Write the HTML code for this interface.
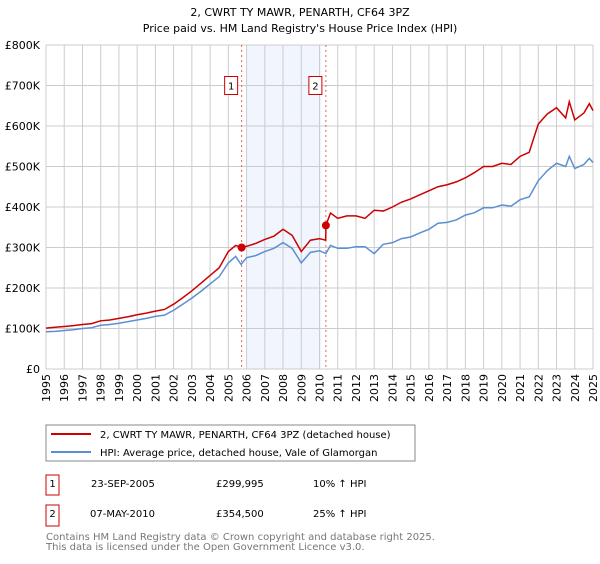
<!DOCTYPE html>
<html><head><meta charset="utf-8"><style>
body{margin:0;background:#fff;font-family:"DejaVu Sans","Liberation Sans",sans-serif}
svg text{font-family:"DejaVu Sans","Liberation Sans",sans-serif}
</style></head><body>
<svg id="c" width="600" height="560" xmlns="http://www.w3.org/2000/svg">
<text x="300" y="16" text-anchor="middle" font-size="11">2, CWRT TY MAWR, PENARTH, CF64 3PZ</text>
<text x="300" y="32" text-anchor="middle" font-size="11">Price paid vs. HM Land Registry's House Price Index (HPI)</text>
<g id="plot"></g>
<g>
<rect x="46" y="425" width="369" height="36" fill="#fff" stroke="#888"/>
<line x1="51" y1="434" x2="91" y2="434" stroke="#cc0000" stroke-width="2"/>
<text x="100" y="438" font-size="10">2, CWRT TY MAWR, PENARTH, CF64 3PZ (detached house)</text>
<line x1="51" y1="452" x2="91" y2="452" stroke="#5b8fd4" stroke-width="2"/>
<text x="100" y="456" font-size="10">HPI: Average price, detached house, Vale of Glamorgan</text>
</g>
<g font-size="10">
<rect x="46" y="475" width="13" height="20" fill="#fff" stroke="#cc0000"/><text x="52.5" y="487" text-anchor="middle">1</text>
<text x="91" y="487">23-SEP-2005</text><text x="216" y="487">£299,995</text><text x="313" y="487">10% ↑ HPI</text>
<rect x="46" y="505" width="13" height="21" fill="#fff" stroke="#cc0000"/><text x="52.5" y="517" text-anchor="middle">2</text>
<text x="90" y="517">07-MAY-2010</text><text x="216" y="517">£354,500</text><text x="313" y="517">25% ↑ HPI</text>
</g>
<text x="46" y="540" font-size="10" fill="#777">Contains HM Land Registry data © Crown copyright and database right 2025.</text>
<text x="46" y="550" font-size="10" fill="#777">This data is licensed under the Open Government Licence v3.0.</text>
</svg>
<script>
const hpiYears=[1995,1995.5,1996,1996.5,1997,1997.5,1998,1998.5,1999,1999.5,2000,2000.5,2001,2001.5,2002,2002.5,2003,2003.5,2004,2004.5,2005,2005.4,2005.7,2006,2006.5,2007,2007.5,2008,2008.5,2009,2009.5,2010,2010.35,2010.6,2011,2011.5,2012,2012.5,2013,2013.5,2014,2014.5,2015,2015.5,2016,2016.5,2017,2017.5,2018,2018.5,2019,2019.5,2020,2020.5,2021,2021.5,2022,2022.5,2023,2023.5,2023.7,2024,2024.5,2024.8,2025];
const hpiValues=[92,93,95,97,100,102,108,110,113,117,121,125,130,133,145,160,175,192,210,228,262,278,258,275,280,290,298,312,298,262,288,292,285,305,298,298,302,302,285,308,312,322,326,336,345,360,362,368,380,386,398,398,405,402,418,425,465,490,508,500,525,495,505,520,510];
const ppYears=[1995,1995.5,1996,1996.5,1997,1997.5,1998,1998.5,1999,1999.5,2000,2000.5,2001,2001.5,2002,2002.5,2003,2003.5,2004,2004.5,2005,2005.4,2005.73,2006,2006.5,2007,2007.5,2008,2008.5,2009,2009.5,2010,2010.34,2010.35,2010.6,2011,2011.5,2012,2012.5,2013,2013.5,2014,2014.5,2015,2015.5,2016,2016.5,2017,2017.5,2018,2018.5,2019,2019.5,2020,2020.5,2021,2021.5,2022,2022.5,2023,2023.5,2023.7,2024,2024.5,2024.8,2025];
const ppValues=[101,103,105,107,110,112,119,121,125,129,134,138,143,147,160,176,193,212,231,250,290,305,300,303,310,320,328,345,330,290,318,322,318,354.5,385,372,378,378,372,392,390,400,412,420,430,440,450,455,462,472,485,500,500,508,505,525,535,605,630,645,620,660,615,632,655,638];
const saleYears=[2005.73,2010.35];
const saleValues=[299.995,354.5];
const yTicks=[0,100,200,300,400,500,600,700,800];
const yTickLabels=["£0","£100K","£200K","£300K","£400K","£500K","£600K","£700K","£800K"];
const xTicks=[];for(let y=1995;y<=2025;y++)xTicks.push(y);

const X0=46,X1=593,Y0=369,Y1=45;
const x=v=>X0+(v-1995)/30*(X1-X0);
const y=v=>Y0-v/800*(Y0-Y1);
const NS="http://www.w3.org/2000/svg";
const g=document.getElementById('plot');
function mk(t,a){const e=document.createElementNS(NS,t);for(const k in a)e.setAttribute(k,a[k]);g.appendChild(e);return e;}
let sh=mk('rect',{x:x(2006),y:Y1,width:x(2010.1)-x(2006),height:Y0-Y1,fill:'#eef3fc',opacity:0.8});


xTicks.forEach(t=>{const l=mk('line',{x1:x(t),x2:x(t),y1:Y1,y2:Y0,stroke:'#ccc'});


const tx=mk('text',{x:0,y:0,'font-size':11,'text-anchor':'end',transform:`translate(${x(t)+4},${Y0+5}) rotate(-90)`});tx.textContent=t;

});
yTicks.forEach((t,i)=>{const l=mk('line',{x1:X0,x2:X1,y1:y(t),y2:y(t),stroke:'#ccc'});


const tx=mk('text',{x:X0-6,y:y(t)+4,'font-size':11,'text-anchor':'end'});tx.textContent=yTickLabels[i];

});
saleYears.forEach((s,i)=>{const l=mk('line',{x1:x(s),x2:x(s),y1:Y1,y2:Y0,stroke:'#e06060','stroke-dasharray':'2,3'});


const r=mk('rect',{x:x(s)-17,y:y(700)-9,width:13,height:18,fill:'#fff',stroke:'#cc0000'});


const tx=mk('text',{x:x(s)-10.5,y:y(700)+4,'font-size':10,'text-anchor':'middle'});tx.textContent=i+1;

});
function line(xs,vs,c,n){const p=mk('polyline',{points:xs.map((t,i)=>x(t)+','+y(vs[i])).join(' '),fill:'none',stroke:c,'stroke-width':1.5});

}
line(hpiYears,hpiValues,'#5b8fd4','hpi-line');
line(ppYears,ppValues,'#cc0000','price-paid-line');
saleYears.forEach((s,i)=>{const c=mk('circle',{cx:x(s),cy:y(saleValues[i]),r:4,fill:'#cc0000'});

});
</script>
</body></html>
